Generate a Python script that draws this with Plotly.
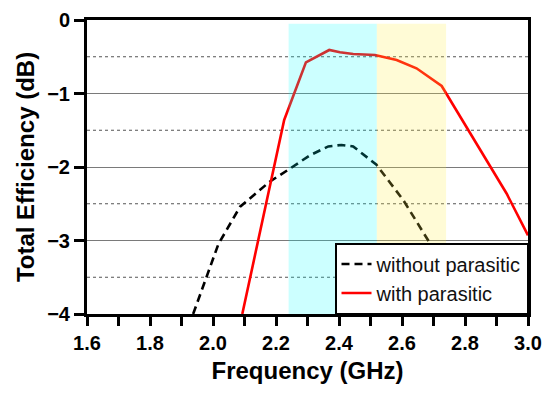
import plotly.graph_objects as go

# Data
without_x = [1.937, 2.017, 2.086, 2.18, 2.245, 2.308, 2.366, 2.408, 2.445, 2.519, 2.604, 2.715, 2.80]
without_y = [-4.0, -3.05, -2.54, -2.2, -2.02, -1.84, -1.72, -1.70, -1.72, -1.97, -2.45, -3.22, -3.9]

with_x = [2.093, 2.226, 2.295, 2.369, 2.403, 2.445, 2.514, 2.583, 2.646, 2.726, 2.932, 3.0]
with_y = [-4.0, -1.36, -0.576, -0.408, -0.44, -0.463, -0.476, -0.544, -0.657, -0.898, -2.36, -2.93]

band_cyan = [2.24, 2.52]
band_yellow = [2.52, 2.74]

x_range = [1.6, 3.0]
y_range = [-4, 0]
x_tickvals = [1.6, 1.7, 1.8, 1.9, 2.0, 2.1, 2.2, 2.3, 2.4, 2.5, 2.6, 2.7, 2.8, 2.9, 3.0]
x_ticktext = ["1.6", "", "1.8", "", "2.0", "", "2.2", "", "2.4", "", "2.6", "", "2.8", "", "3.0"]
y_tickvals = [0, -1, -2, -3, -4]
half_grid = [-0.5, -1.5, -2.5, -3.5]

FONT = "Liberation Sans, Arial, sans-serif"

fig = go.Figure()
fig.add_trace(go.Scatter(x=without_x, y=without_y, mode="lines", name="without parasitic",
                         line=dict(color="black", width=2.6, dash="8px,5px")))
fig.add_trace(go.Scatter(x=with_x, y=with_y, mode="lines", name="with parasitic",
                         line=dict(color="#ff0000", width=2.6)))

# dotted half-unit gridlines
for gy in half_grid:
    fig.add_shape(type="line", xref="paper", yref="y", x0=0, x1=1, y0=gy, y1=gy,
                  line=dict(color="#555", width=1.2, dash="dot"), layer="below")

fig.add_shape(type="rect", xref="x", yref="y", x0=band_cyan[0], x1=band_cyan[1], y0=-4, y1=-0.05,
              fillcolor="#00ffff", opacity=0.2, line_width=0, layer="above")
fig.add_shape(type="rect", xref="x", yref="y", x0=band_yellow[0], x1=band_yellow[1], y0=-4, y1=-0.05,
              fillcolor="#ffee44", opacity=0.22, line_width=0, layer="above")

fig.update_layout(
    template="none",
    width=550, height=396,
    margin=dict(l=87, r=22, t=20, b=82, autoexpand=False),
    paper_bgcolor="white", plot_bgcolor="white",
    font=dict(family=FONT, color="black"),
    showlegend=True,
    legend=dict(x=1, y=0, xanchor="right", yanchor="bottom",
                bgcolor="white", bordercolor="black", borderwidth=1.5,
                font=dict(size=20, family=FONT, color="#111"),
                tracegroupgap=0, itemwidth=30),
)

fig.update_xaxes(
    range=x_range, tickmode="array", tickvals=x_tickvals, ticktext=x_ticktext,
    ticks="outside", ticklen=9, tickwidth=3, tickcolor="#000000",
    showline=True, linewidth=3, linecolor="black", mirror=True,
    showgrid=False, zeroline=False, automargin=False,
    tickfont=dict(size=20, family=FONT, weight=700),
    title=dict(text="<b>Frequency (GHz)</b>", font=dict(size=24, family=FONT), standoff=10),
)
fig.update_yaxes(
    range=y_range, tickmode="array", tickvals=y_tickvals,
    ticks="outside", ticklen=10, tickwidth=3, tickcolor="#000000",
    showline=True, linewidth=3, linecolor="black", mirror=True,
    showgrid=True, gridcolor="#7a7a7a", gridwidth=1.2, zeroline=False, automargin=False,
    tickfont=dict(size=20, family=FONT, weight=700),
    title=dict(text="<b>Total Efficiency (dB)</b>", font=dict(size=24, family=FONT), standoff=6),
)

fig.write_html("out.html", config={"displayModeBar": False},
               post_script="document.body.style.margin='0';document.body.style.padding='0';")
